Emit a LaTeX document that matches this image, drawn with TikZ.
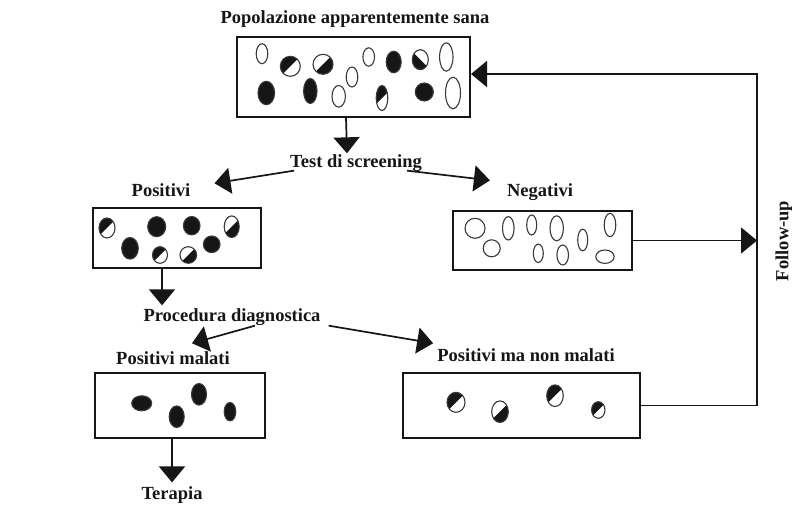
\documentclass[tikz,border=0pt]{standalone}
\usepackage{fontspec}
\setmainfont{Liberation Serif}
\usetikzlibrary{arrows.meta}
\definecolor{ink}{HTML}{161616}
\newcommand\cellO[4]{\draw[cell] (#1,#2) ellipse [x radius=#3, y radius=#4];}
\newcommand\cellF[4]{\filldraw[cell,fill=ink] (#1,#2) ellipse [x radius=#3, y radius=#4];}
\newcommand\cellTL[4]{\begin{scope}\clip (#1,#2) ellipse [x radius=#3, y radius=#4];
 \fill[ink] (#1-#3-#4,#2+#3+#4) -- (#1-#3-#4,#2-#3-#4) -- (#1+#3+#4,#2-#3-#4) -- cycle;\end{scope}
 \draw[cell] (#1,#2) ellipse [x radius=#3, y radius=#4];}
\newcommand\cellBR[4]{\begin{scope}\clip (#1,#2) ellipse [x radius=#3, y radius=#4];
 \fill[ink] (#1-#3-#4,#2+#3+#4) -- (#1+#3+#4,#2+#3+#4) -- (#1+#3+#4,#2-#3-#4) -- cycle;\end{scope}
 \draw[cell] (#1,#2) ellipse [x radius=#3, y radius=#4];}
\newcommand\cellBL[4]{\begin{scope}\clip (#1,#2) ellipse [x radius=#3, y radius=#4];
 \fill[ink] (#1-#3-#4,#2-#3-#4) -- (#1-#3-#4,#2+#3+#4) -- (#1+#3+#4,#2+#3+#4) -- cycle;\end{scope}
 \draw[cell] (#1,#2) ellipse [x radius=#3, y radius=#4];}
\begin{document}
\begin{tikzpicture}[x=1pt,y=-1pt,
  lbl/.style={font=\bfseries\fontsize{18.5}{18.5}\selectfont, inner sep=0pt, text=ink},
  box/.style={draw=ink, line width=2pt, inner sep=0pt, rectangle},
  arr/.style={draw=ink, line width=1.7pt, -{Triangle[width=26pt,length=16pt]}},
  conn/.style={draw=ink, line width=1.7pt},
  cell/.style={draw=ink!85, line width=1.1pt}]
\fill[white] (0,0) rectangle (792,510);
\useasboundingbox (0,0) rectangle (792,510);

% labels
\node[lbl] (title) at (355,19) {Popolazione apparentemente sana};
\node[lbl] (test) at (356,163) {Test di screening};
\node[lbl] (posl) at (161,190) {Positivi};
\node[lbl] (negl) at (540,192) {Negativi};
\node[lbl] (proc) at (232,317) {Procedura diagnostica};
\node[lbl] (pmal) at (173,358) {Positivi malati};
\node[lbl] (pnm) at (526,355) {Positivi ma non malati};
\node[lbl] (ter) at (172,495) {Terapia};
\node[lbl, rotate=90] (fu) at (784,241) {Follow-up};

% boxes
\node[box, minimum width=233pt, minimum height=80pt] (top) at (353.5,77) {};
\node[box, minimum width=168pt, minimum height=60pt] (pos) at (177,238) {};
\node[box, minimum width=179pt, minimum height=59pt] (neg) at (542.5,240.5) {};
\node[box, minimum width=170pt, minimum height=65pt] (mal) at (180,405.5) {};
\node[box, minimum width=237pt, minimum height=65pt] (nm) at (521.5,405.5) {};

% cells: population
\cellO{262}{53.7}{5.8}{10}
\cellTL{290.3}{66.3}{10}{10}
\cellBR{323}{64.3}{10}{10}
\cellO{368.7}{57}{5.8}{9.2}
\cellF{393.7}{62}{7.5}{10.8}
\cellBL{420.3}{59.7}{8}{10}
\cellO{446.3}{57}{6.7}{14.2}
\cellO{352}{77}{5.8}{10}
\cellF{266.3}{93}{8.3}{11.7}
\cellF{310.3}{91}{6.7}{12.5}
\cellO{338.7}{96.3}{6.7}{10.8}
\cellTL{382}{98}{5.8}{12.5}
\cellF{424.3}{92}{9}{9}
\cellO{453}{93}{7.5}{15.8}
% positives
\cellTL{107}{228}{8}{10}
\cellF{130}{248.3}{8.3}{10.8}
\cellF{156.7}{226.7}{9}{10}
\cellTL{160}{255}{7.5}{8.3}
\cellF{191.7}{225.7}{8.3}{9.2}
\cellBR{188.3}{255}{8.3}{8.3}
\cellF{211.7}{244.3}{8.3}{8.3}
\cellBR{231.7}{226.7}{7.5}{10.8}
% negatives
\cellO{475}{228.3}{10}{10}
\cellO{491.7}{248.3}{8.5}{8.5}
\cellO{508.3}{228.3}{5.8}{11.7}
\cellO{531.7}{225}{5}{10}
\cellO{538.3}{253.3}{5}{9.2}
\cellO{556.7}{228.3}{6.7}{12.5}
\cellO{562.7}{255}{5.8}{10}
\cellO{582.7}{240}{5}{10.8}
\cellO{610}{225}{5.8}{11.7}
\cellO{605}{256.7}{9.2}{6.7}
% sick
\cellF{141.7}{403.3}{10}{7.5}
\cellF{176.7}{416.7}{7.5}{10.8}
\cellF{199}{394.3}{7.5}{10.8}
\cellF{230}{411.7}{5.8}{9.2}
% positive not sick
\cellTL{456}{402.3}{9}{10}
\cellBR{500}{411.7}{8.3}{10.8}
\cellTL{555}{395.7}{8.3}{10.8}
\cellTL{598.3}{410}{6.7}{8.3}

% connectors
\draw[arr] ([xshift=-7.5pt]top.south) -- ([xshift=-9pt,yshift=1pt]test.north);
\draw[arr] ([xshift=4pt,yshift=1pt]test.south west) -- ([xshift=24pt]posl.north east);
\draw[arr] ([xshift=-15pt,yshift=1pt]test.south east) -- ([xshift=-17pt,yshift=3pt]negl.north west);
\draw[arr] ([xshift=-15pt]pos.south) -- ([xshift=-15pt,yshift=3pt]pos.south |- proc.north);
\draw[arr] ([xshift=23pt]proc.south) -- ([xshift=19pt,yshift=8pt]pmal.north);
\draw[arr] ([xshift=8pt]proc.south east) -- ([xshift=-4pt,yshift=5pt]pnm.north west);
\draw[arr] (ter.north |- mal.south) -- ([yshift=4pt]ter.north);
\coordinate (futop) at (757,74);
\draw[arr] (nm.east) -| (futop) -- (futop -| top.east);
\draw[arr] (neg.east) -- (neg.east -| futop);
\end{tikzpicture}
\end{document}
